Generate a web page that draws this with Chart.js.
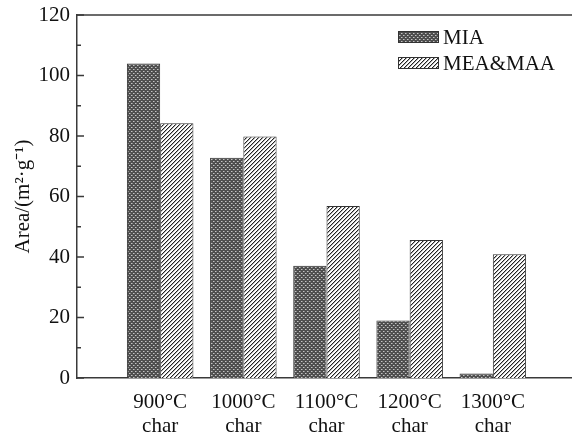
<!DOCTYPE html>
<html><head><meta charset="utf-8">
<script src="https://cdn.jsdelivr.net/npm/chart.js@4"></script>
<style>html,body{margin:0;padding:0;overflow:hidden;background:#fff}
#wrap{width:576px;height:436px;position:relative}</style></head>
<body><div id="wrap"><canvas id="c"></canvas></div>
<script>
const categories = [['900°C','char'],['1000°C','char'],['1100°C','char'],['1200°C','char'],['1300°C','char']];
const seriesNames = ['MIA','MEA&MAA'];
const miaValues = [104.0, 72.8, 37.1, 19.0, 1.5];
const meaMaaValues = [84.2, 79.8, 56.9, 45.6, 40.9];
const yTicks = [0, 20, 40, 60, 80, 100, 120];
const yTitle = 'Area/(m²·g⁻¹)';

const FONT = "'Liberation Serif','Times New Roman',serif";
const AXIS = '#3a3a3a';

function crossPattern(){
  const c=document.createElement('canvas'); c.width=c.height=4;
  const g=c.getContext('2d');
  g.fillStyle='#4e4e4e'; g.fillRect(0,0,4,4);
  g.fillStyle='#c4c4c4'; g.fillRect(1,1,1,1); g.fillRect(3,3,1,1);
  g.fillStyle='#8a8a8a'; g.fillRect(2,1,1,1); g.fillRect(0,3,1,1);
  return g.createPattern(c,'repeat');
}
function hatchPattern(){
  const c=document.createElement('canvas'); c.width=c.height=4;
  const g=c.getContext('2d');
  g.fillStyle='#ffffff'; g.fillRect(0,0,4,4);
  for(let x=0;x<4;x++){ g.fillStyle='#222'; g.fillRect(x,3-x,1,1); g.fillStyle='#b0b0b0'; g.fillRect(x,(4-x)%4,1,1); }
  return g.createPattern(c,'repeat');
}
const ctx0=document.getElementById('c').getContext('2d');
const fills=[crossPattern(), hatchPattern()];

const pad = a => [null, ...a, null];
const labels = ['', ...categories, ''];

const framePlugin = {
  id:'frame',
  afterDraw(chart){
    const {ctx, chartArea:{left,right,top}, scales:{y}} = chart;
    ctx.save();
    ctx.strokeStyle=AXIS; ctx.lineWidth=1.5;
    ctx.beginPath(); ctx.moveTo(left-0.75, top); ctx.lineTo(right, top); ctx.stroke();
    ctx.beginPath();
    const step = (yTicks[1]-yTicks[0])/2;
    for(let v=y.min; v<=y.max; v+=step){
      const py=y.getPixelForValue(v);
      const major = Math.round((v-y.min)/step)%2===0;
      ctx.moveTo(left, py); ctx.lineTo(left+(major?7:4), py);
    }
    ctx.stroke();
    // legend
    const lx = left+321, ly = top+16;
    chart.data.datasets.forEach((ds,i)=>{
      const by = ly + i*26;
      ctx.fillStyle=ds.backgroundColor; ctx.fillRect(lx, by, 41, 12);
      ctx.strokeStyle='#333'; ctx.lineWidth=1; ctx.strokeRect(lx+0.5, by+0.5, 40, 11);
      ctx.fillStyle='#111'; ctx.font='21px '+FONT; ctx.textBaseline='middle'; ctx.textAlign='left';
      ctx.fillText(ds.label, lx+45, by+7);
    });
    ctx.restore();
  }
};

new Chart(ctx0, {
  type:'bar',
  data:{
    labels,
    datasets:[
      {label:seriesNames[0], data:pad(miaValues), backgroundColor:fills[0], borderColor:'#333', borderWidth:1},
      {label:seriesNames[1], data:pad(meaMaaValues), backgroundColor:fills[1], borderColor:'#333', borderWidth:1}
    ]
  },
  options:{
    responsive:true, maintainAspectRatio:false, animation:false,
    layout:{padding:{top:15,right:0,bottom:0,left:0}},
    datasets:{bar:{categoryPercentage:0.8, barPercentage:1.0}},
    plugins:{legend:{display:false}, tooltip:{enabled:false}},
    scales:{
      x:{
        offset:false,
        grid:{display:false, drawTicks:false},
        border:{display:true, color:AXIS, width:1.5},
        ticks:{color:'#111', font:{family:FONT, size:21, lineHeight:1.15}, padding:12, maxRotation:0, autoSkip:false},
        afterFit(s){ s.height = 58; s.paddingLeft = 0; s.paddingRight = 0; }
      },
      y:{
        min:yTicks[0], max:yTicks[yTicks.length-1],
        grid:{display:false, drawTicks:false},
        border:{display:true, color:AXIS, width:1.5},
        ticks:{stepSize:yTicks[1]-yTicks[0], color:'#111', font:{family:FONT, size:21}, padding:7},
        title:{display:true, text:yTitle, color:'#111', font:{family:FONT, size:21}, padding:{top:11,bottom:0}},
        afterFit(s){ s.width = 77; s.paddingTop = 0; s.paddingBottom = 0; }
      }
    }
  },
  plugins:[framePlugin]
});
</script></body></html>
